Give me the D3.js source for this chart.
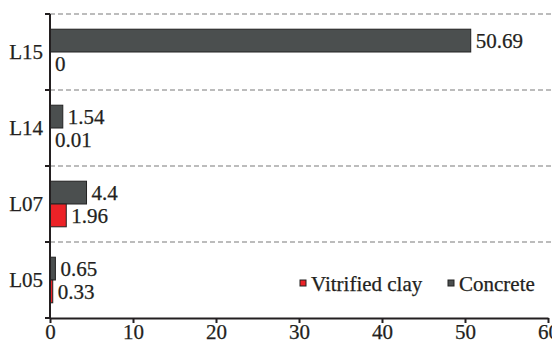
<!DOCTYPE html>
<html><head><meta charset="utf-8">
<script src="https://cdn.jsdelivr.net/npm/d3@7"></script>
<style>body{margin:0;background:#fff}svg{display:block}</style>
</head><body>
<svg id="c" width="552" height="341"></svg>
<script>
const categories = ["L15", "L14", "L07", "L05"];
const seriesNames = ["Concrete", "Vitrified clay"];
const concrete = [50.69, 1.54, 4.4, 0.65];
const vitrifiedClay = [0, 0.01, 1.96, 0.33];
const xTicks = [0, 10, 20, 30, 40, 50, 60];
const legendItems = ["Vitrified clay", "Concrete"];
const colors = {"Concrete": "#4b4f4f", "Vitrified clay": "#ec2227"};
const values = {"Concrete": concrete, "Vitrified clay": vitrifiedClay};

const svg = d3.select("#c");
const font = "Liberation Serif, DejaVu Serif, Noto Serif, Times New Roman, serif";
const fs = 21;
const ink = "#231f20";
const mLeft = 50, mRight = 548, mTop = 14, mBottom = 318;

const x = d3.scaleLinear().domain([0, 60]).range([mLeft, mRight]);
const y = d3.scaleBand().domain(categories).range([mTop, mBottom]).paddingInner(0.4).paddingOuter(0.2);
const sub = d3.scaleBand().domain(seriesNames).range([0, y.bandwidth()]);

function styleText(t) {
  return t.style("font-family", font).attr("font-size", fs).attr("fill", ink)
    .attr("stroke", ink).attr("stroke-width", 0.25);
}

const step = y.step();
categories.forEach((c, i) => {
  const yy = mTop + i * step;
  svg.append("line").attr("x1", mLeft).attr("x2", 552).attr("y1", yy).attr("y2", yy)
    .attr("stroke", "#a6a6a6").attr("stroke-width", 1.3).attr("stroke-dasharray", "5,3");
});

categories.forEach((c, i) => {
  seriesNames.forEach(s => {
    const v = values[s][i];
    const y0 = y(c) + sub(s);
    const w = x(v) - x(0);
    if (w > 0) {
      svg.append("rect").attr("x", x(0)).attr("y", y0).attr("width", w).attr("height", sub.bandwidth())
        .attr("fill", colors[s]).attr("stroke", "#222").attr("stroke-width", 1);
    }
    styleText(svg.append("text").attr("x", x(v) + 5).attr("y", y0 + sub.bandwidth() / 2)
      .attr("dy", "0.35em")).text(v);
  });
});

svg.append("line").attr("x1", mLeft).attr("x2", mLeft).attr("y1", mTop).attr("y2", mBottom)
  .attr("stroke", ink).attr("stroke-width", 2);
for (let i = 0; i <= categories.length; i++) {
  const yy = mTop + i * step;
  svg.append("line").attr("x1", mLeft - 5).attr("x2", mLeft).attr("y1", yy).attr("y2", yy)
    .attr("stroke", ink).attr("stroke-width", 2);
}
categories.forEach(c => {
  styleText(svg.append("text").attr("x", mLeft - 7).attr("y", y(c) + y.bandwidth() / 2).attr("dy", "0.35em")
    .attr("text-anchor", "end")).text(c);
});

const xa = svg.append("g").attr("transform", `translate(0,${mBottom})`)
  .call(d3.axisBottom(x).tickValues(xTicks).tickSize(5).tickSizeOuter(0));
xa.attr("font-family", null).attr("font-size", null);
xa.select(".domain").attr("stroke", ink).attr("stroke-width", 2);
xa.selectAll(".tick line").attr("stroke", ink).attr("stroke-width", 2);
styleText(xa.selectAll(".tick text")).attr("dy", null).attr("y", 21);

const legendX = [300, 448];
legendItems.forEach((name, i) => {
  svg.append("rect").attr("x", legendX[i]).attr("y", 280).attr("width", 6).attr("height", 6)
    .attr("fill", colors[name]).attr("stroke", "#222").attr("stroke-width", 1);
  styleText(svg.append("text").attr("x", legendX[i] + 11).attr("y", 291)).text(name);
});
</script>
</body></html>
